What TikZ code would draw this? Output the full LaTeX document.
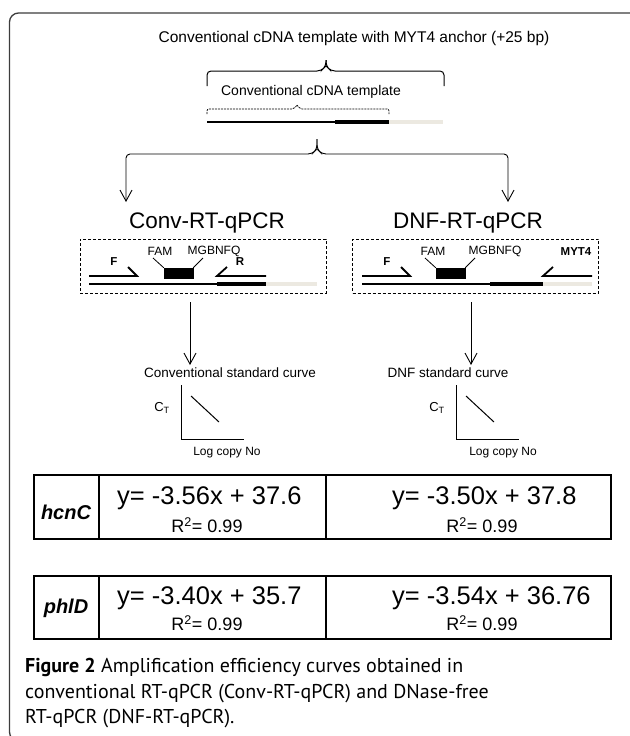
\documentclass[tikz,border=0pt]{standalone}
\usepackage{fontspec}
\setmainfont{Liberation Sans}
\newfontfamily\captfont{PT Sans}
\usetikzlibrary{arrows.meta}
\definecolor{tgray}{HTML}{ECE9E1}
\definecolor{framec}{HTML}{3C3C3C}
\newcommand\myfs[1]{\fontsize{#1}{#1}\selectfont}
\begin{document}
\begin{tikzpicture}[x=1pt,y=-1pt,
  lbl/.style={inner sep=0pt, anchor=center},
  arr/.style={-{Straight Barb[length=11pt,width=12pt]}, line width=0.9pt},
  brace/.style={line width=1pt, rounded corners=4pt},
  dbrace/.style={line width=0.7pt, rounded corners=2pt, dash pattern=on 2pt off 1pt},
  tmpthin/.style={line width=1.1pt},
  tmpthick/.style={line width=3.4pt},
  tmpgray/.style={line width=3.4pt, draw=tgray},
  primer/.style={line width=1.8pt},
  plink/.style={line width=0.8pt},
  dbox/.style={draw, dash pattern=on 3pt off 2pt, line width=0.8pt, minimum width=246pt, minimum height=54pt, inner sep=0pt},
  probe/.style={fill=black, draw=black, minimum width=29pt, minimum height=10pt, inner sep=0pt},
  tab/.style={line width=1.8pt},
  axis/.style={line width=1pt},
  eqn/.style={inner sep=0pt, anchor=west, font=\myfs{25.5}},
  rsq/.style={inner sep=0pt, anchor=center, font=\myfs{18}},
  gene/.style={inner sep=0pt, anchor=center, font=\bfseries\itshape\myfs{20}},
  capt/.style={anchor=west, inner sep=0pt, font=\captfont\myfs{20}},
]
\useasboundingbox (0,0) rectangle (629,736);
% outer frame
\draw[line width=1.3pt, framec, rounded corners=9pt] (640,13) -- (9.5,13) -- (9.5,741) -- (60,741);

% top title and brace
\node[lbl, font=\myfs{15.5}] (title) at (354,38) {Conventional cDNA template with MYT4 anchor (+25 bp)};
\coordinate (tbtip) at (326,60);
\draw[brace] (207,86) -- (207,71) -- (321,71) -- (326,66) -- (tbtip);
\draw[brace] (tbtip) -- (326,66) -- (331,71) -- (444,71) -- (444,86);
\node[lbl, font=\myfs{14}] (sub) at (311,92) {Conventional cDNA template};
\coordinate (dbtip) at (297,105);
\draw[dbrace] (207,114) -- (207,109) -- (294,109) -- (dbtip);
\draw[dbrace] (dbtip) -- (300,109) -- (389,109) -- (389,114);
\draw[tmpthin] (207,122) -- (335,122);
\draw[tmpthick] (335,122) -- (389,122);
\draw[tmpgray] (389,122) -- (443,122);

% lower brace with arrows
\coordinate (bbtip) at (317,139);
\coordinate (lat) at (126,202);
\coordinate (rat) at (508,202);
\draw[brace, arr] (bbtip) -- (317,149) -- (312,154) -- (126,154) -- (lat);
\draw[brace, arr] (bbtip) -- (317,149) -- (322,154) -- (508,154) -- (rat);

% method titles
\node[lbl, font=\myfs{22.5}] (conv) at (207,223) {Conv-RT-qPCR};
\node[lbl, font=\myfs{22.5}] (dnf) at (468,223) {DNF-RT-qPCR};

% left box
\node[dbox] (lbox) at (203,266) {};
\draw[tmpthin] (89,284) -- (217,284);
\draw[tmpthick] (217,284) -- (266,284);
\draw[tmpgray] (266,284) -- (317,284);
\draw[primer] (89,276) -- (137,276) -- (128,267);
\node[lbl, font=\bfseries\myfs{11.5}] (lF) at (114,262) {F};
\node[probe] (lprobe) at (178.5,273) {};
\node[lbl, font=\myfs{12}] (lfam) at (160,251) {FAM};
\node[lbl, font=\myfs{12}] (lmgb) at (214,251) {MGBNFQ};
\draw[plink] (153,258) -- (lprobe.north west);
\draw[plink] (203,258) -- (lprobe.north east);
\draw[primer] (266,276) -- (217,276) -- (227,267);
\node[lbl, font=\bfseries\myfs{11.5}] (lR) at (240,262) {R};

% right box
\node[dbox] (rbox) at (475.5,266) {};
\draw[tmpthin] (362,284) -- (490,284);
\draw[tmpthick] (490,284) -- (543,284);
\draw[tmpgray] (543,284) -- (592,284);
\draw[primer] (362,276) -- (410,276) -- (401,267);
\node[lbl, font=\bfseries\myfs{11.5}] (rF) at (387,262) {F};
\node[probe] (rprobe) at (450.5,273) {};
\node[lbl, font=\myfs{12}] (rfam) at (433,251) {FAM};
\node[lbl, font=\myfs{12}] (rmgb) at (495,251) {MGBNFQ};
\draw[plink] (425,258) -- (rprobe.north west);
\draw[plink] (475,258) -- (rprobe.north east);
\draw[primer] (592,276) -- (543,276) -- (553,267);
\node[lbl, font=\bfseries\myfs{11.5}] (rmyt) at (576,252) {MYT4};

% arrows to curves
\coordinate (la1) at (190,302);
\coordinate (la2) at (190,365);
\coordinate (ra1) at (471,302);
\coordinate (ra2) at (471,365);
\draw[arr] (la1) -- (la2);
\draw[arr] (ra1) -- (ra2);
\node[lbl, font=\myfs{13.5}] (lcurve) at (230,373) {Conventional standard curve};
\node[lbl, font=\myfs{13.5}] (rcurve) at (448,373) {DNF standard curve};

% left plot
\draw[axis] (181,385) -- (181,439) -- (244,439);
\draw[axis] (191,396) -- (219,422);
\node[lbl, font=\myfs{13}] (lct) at (162,408) {C\textsubscript{T}};
\node[lbl, font=\myfs{12}] (llog) at (227,453) {Log copy No};
% right plot
\draw[axis] (456,385) -- (456,439) -- (519,439);
\draw[axis] (466,396) -- (494,422);
\node[lbl, font=\myfs{13}] (rct) at (437,408) {C\textsubscript{T}};
\node[lbl, font=\myfs{12}] (rlog) at (503,453) {Log copy No};

% table 1
\draw[tab] (34,475) rectangle (611,539);
\draw[tab] (99,475) -- (99,539);
\draw[tab] (326,475) -- (326,539);
\node[gene] (g1) at (66,512) {hcnC};
\node[eqn] (e11) at (117,498) {y= -3.56x + 37.6};
\node[rsq] (r11) at (207,525) {R\textsuperscript{2}= 0.99};
\node[eqn] (e12) at (392,498) {y= -3.50x + 37.8};
\node[rsq] (r12) at (482,525) {R\textsuperscript{2}= 0.99};

% table 2
\draw[tab] (34,576) rectangle (611,639);
\draw[tab] (99,576) -- (99,639);
\draw[tab] (326,576) -- (326,639);
\node[gene] (g2) at (66,608) {phlD};
\node[eqn] (e21) at (117,598) {y= -3.40x + 35.7};
\node[rsq] (r21) at (207,623) {R\textsuperscript{2}= 0.99};
\node[eqn] (e22) at (392,598) {y= -3.54x + 36.76};
\node[rsq] (r22) at (482,623) {R\textsuperscript{2}= 0.99};

% caption
\node[capt] (cap1) at (25,667) {\textbf{Figure 2} Amplification efficiency curves obtained in};
\node[capt] (cap2) at (25,694) {conventional RT-qPCR (Conv-RT-qPCR) and DNase-free};
\node[capt] (cap3) at (25,719) {RT-qPCR (DNF-RT-qPCR).};
\end{tikzpicture}
\end{document}
